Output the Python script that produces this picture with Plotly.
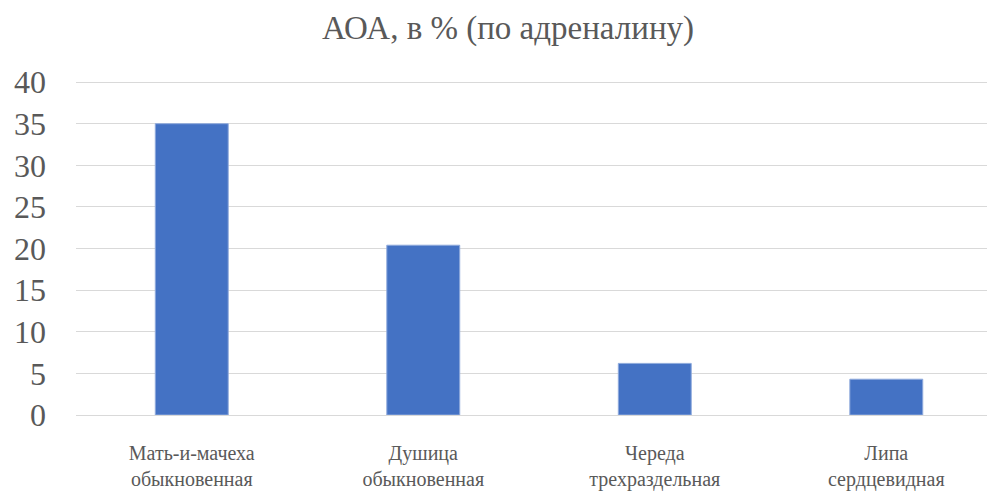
import plotly.graph_objects as go

categories = ["Мать-и-мачеха<br>обыкновенная", "Душица<br>обыкновенная",
              "Череда<br>трехраздельная", "Липа<br>сердцевидная"]
values = [35, 20.4, 6.2, 4.3]
y_ticks = [0, 5, 10, 15, 20, 25, 30, 35, 40]

fig = go.Figure(go.Bar(
    x=categories, y=values, width=0.315,
    marker=dict(color="#4472C4", line=dict(color="#8FAADC", width=1)),
))

font_family = "Liberation Serif"
fig.update_layout(
    width=987, height=498,
    paper_bgcolor="white", plot_bgcolor="white",
    margin=dict(l=76, r=0, t=80, b=83, autoexpand=False),
    showlegend=False,
    font=dict(family=font_family, color="#595959"),
    title=dict(text="АОА, в % (по адреналину)", x=508/987, xref="container",
               xanchor="center", y=1-27/498, yref="container", yanchor="middle",
               font=dict(size=33, family=font_family, color="#595959")),
    bargap=0.685,
)
fig.update_xaxes(range=[-0.5, 3.435], showgrid=False, showline=True,
                 linecolor="#D9D9D9", linewidth=1, ticks="", automargin=False,
                 tickfont=dict(size=20, family=font_family, color="#595959"),
                 ticklabelstandoff=20)
fig.update_yaxes(range=[0, 40.25], tickvals=y_ticks, showgrid=True,
                 gridcolor="#D9D9D9", gridwidth=1, zeroline=False,
                 ticks="", ticklabelstandoff=29, automargin=False,
                 tickfont=dict(size=32, family=font_family, color="#595959"))

fig.write_html("out.html", config={"displayModeBar": False},
               post_script="document.body.style.margin='0';")
